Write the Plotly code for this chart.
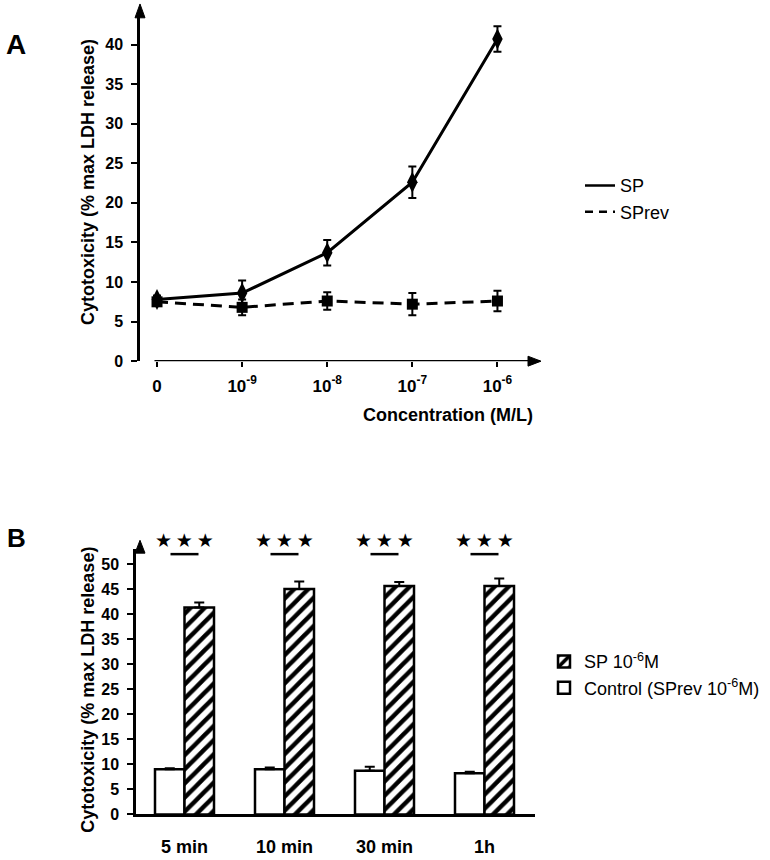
import plotly.graph_objects as go

# ---------------- data ----------------
conc_labels = ["0", "10<sup>-9</sup>", "10<sup>-8</sup>", "10<sup>-7</sup>", "10<sup>-6</sup>"]
sp_mean = [7.8, 8.6, 13.7, 22.6, 40.7]
sp_err = [0.5, 1.6, 1.6, 2.0, 1.6]
sprev_mean = [7.5, 6.8, 7.6, 7.2, 7.6]
sprev_err = [0.5, 1.0, 1.1, 1.4, 1.3]

time_labels = ["5 min", "10 min", "30 min", "1h"]
control_mean = [9.0, 9.0, 8.7, 8.2]
control_err = [0.2, 0.35, 0.8, 0.3]
sp6_mean = [41.3, 45.0, 45.6, 45.6]
sp6_err = [1.0, 1.5, 0.8, 1.5]

a_yticks = [0, 5, 10, 15, 20, 25, 30, 35, 40]
b_yticks = [0, 5, 10, 15, 20, 25, 30, 35, 40, 45, 50]

W, H = 770, 860
FONT = "Liberation Sans, Arial, sans-serif"


def px(x):
    return x / W


def py(y):
    return 1 - y / H


fig = go.Figure()

# ---------------- panel A ----------------
fig.add_trace(go.Scatter(
    x=conc_labels, y=sp_mean, mode="lines+markers", showlegend=False,
    line=dict(color="black", width=3),
    marker=dict(symbol="diamond-tall", size=15, color="black"),
    error_y=dict(type="data", array=sp_err, color="black", thickness=2, width=4),
    xaxis="x", yaxis="y", cliponaxis=False))
fig.add_trace(go.Scatter(
    x=conc_labels, y=sprev_mean, mode="lines+markers", showlegend=False,
    line=dict(color="black", width=3, dash="11px,7px"),
    marker=dict(symbol="square", size=11, color="black"),
    error_y=dict(type="data", array=sprev_err, color="black", thickness=2, width=4),
    xaxis="x", yaxis="y", cliponaxis=False))
# legend-only entries (lines without markers)
fig.add_trace(go.Scatter(x=[None], y=[None], mode="lines", name="SP",
                         line=dict(color="black", width=2.5), legend="legend",
                         xaxis="x", yaxis="y"))
fig.add_trace(go.Scatter(x=[None], y=[None], mode="lines", name="SPrev",
                         line=dict(color="black", width=2.5, dash="8px,6px"), legend="legend",
                         xaxis="x", yaxis="y"))

# ---------------- panel B ----------------
fig.add_trace(go.Bar(
    x=time_labels, y=control_mean, name="Control (SPrev 10<sup>-6</sup>M)",
    marker=dict(color="white", line=dict(color="black", width=2.5)),
    error_y=dict(type="data", array=control_err, arrayminus=[0] * 4, symmetric=False,
                 color="black", thickness=2, width=5),
    xaxis="x2", yaxis="y2", legend="legend2"))
fig.add_trace(go.Bar(
    x=time_labels, y=sp6_mean, name="SP 10<sup>-6</sup>M",
    marker=dict(color="white", line=dict(color="black", width=2.5),
                pattern=dict(shape="/", fgcolor="#000000", bgcolor="#ffffff", size=10,
                             solidity=0.45, fgopacity=1, fillmode="replace")),
    error_y=dict(type="data", array=sp6_err, arrayminus=[0] * 4, symmetric=False,
                 color="black", thickness=2, width=5),
    xaxis="x2", yaxis="y2", legend="legend2"))

tickfont = dict(family=FONT, size=16, color="black", weight="bold")
catfont = dict(family=FONT, size=18, color="black", weight="bold")

fig.update_layout(
    width=W, height=H,
    margin=dict(l=0, r=0, t=0, b=0),
    paper_bgcolor="white", plot_bgcolor="white",
    font=dict(family=FONT, color="black"),
    barmode="group", bargap=0.41, bargroupgap=0,
    xaxis=dict(domain=[px(140), px(540)], anchor="y", type="category",
               range=[-0.2, 4.5], showline=False, showgrid=False, zeroline=False,
               ticks="outside", ticklen=5, tickwidth=2, tickcolor="black",
               tickvals=conc_labels, ticktext=conc_labels,
               tickfont=dict(family=FONT, size=17, color="black", weight="bold"),
               ticklabelstandoff=4),
    yaxis=dict(domain=[py(365), py(15)], anchor="x", range=[0, 43.75],
               showline=True, linewidth=2.5, linecolor="black", showgrid=False, zeroline=False,
               ticks="outside", ticklen=6, tickwidth=2, tickcolor="black",
               tickvals=a_yticks, tickfont=tickfont, ticklabelstandoff=5),
    xaxis2=dict(domain=[px(136), px(535)], anchor="y2", type="category",
                range=[-0.485, 3.505], showline=True, linewidth=2.5, linecolor="black",
                showgrid=False, zeroline=False, ticks="", tickfont=catfont,
                ticklabelstandoff=14),
    yaxis2=dict(domain=[py(823), py(555)], anchor="x2", range=[0, 52.96],
                showline=True, linewidth=2.5, linecolor="black", showgrid=False, zeroline=False,
                ticks="outside", ticklen=6, tickwidth=2, tickcolor="black",
                tickvals=b_yticks, tickfont=tickfont, ticklabelstandoff=5),
    legend=dict(x=px(580), y=py(169), xanchor="left", yanchor="top",
                font=dict(family=FONT, size=18, color="black"),
                bgcolor="rgba(0,0,0,0)", tracegroupgap=0),
    legend2=dict(x=px(544), y=py(650), xanchor="left", yanchor="top",
                 font=dict(family=FONT, size=18, color="black"),
                 bgcolor="rgba(0,0,0,0)", traceorder="reversed"),
)

shapes = []
# panel A x-axis line (starts just right of y-axis) and arrowheads
shapes.append(dict(type="line", xref="x", yref="y", x0=-0.03, x1=4.5, y0=0, y1=0,
                   line=dict(color="black", width=2.5)))
shapes.append(dict(type="path", xref="paper", yref="paper",
                   path=f"M {px(528)} {py(360)} L {px(541)} {py(365)} L {px(528)} {py(370)} Z",
                   fillcolor="black", line=dict(color="black", width=1)))
shapes.append(dict(type="path", xref="paper", yref="paper",
                   path=f"M {px(135)} {py(18)} L {px(140)} {py(4)} L {px(145)} {py(18)} Z",
                   fillcolor="black", line=dict(color="black", width=1)))
# panel B y-axis arrowhead
shapes.append(dict(type="path", xref="paper", yref="paper",
                   path=f"M {px(135)} {py(559)} L {px(140)} {py(546)} L {px(145)} {py(559)} Z",
                   fillcolor="black", line=dict(color="black", width=1)))
# significance lines in panel B
for i in range(len(time_labels)):
    shapes.append(dict(type="line", xref="x2", yref="paper", x0=i - 0.14, x1=i + 0.14,
                       y0=py(560), y1=py(560), line=dict(color="black", width=2.5)))
fig.update_layout(shapes=shapes)

annotations = [
    dict(text="<b>A</b>", x=px(4), y=py(45), xref="paper", yref="paper",
         xanchor="left", yanchor="middle", showarrow=False,
         font=dict(family=FONT, size=28, color="black")),
    dict(text="<b>B</b>", x=px(5), y=py(544), xref="paper", yref="paper",
         xanchor="left", yanchor="middle", showarrow=False,
         font=dict(family=FONT, size=26, color="black")),
    dict(text="<b>Cytotoxicity (% max LDH release)</b>", x=px(88), y=py(184),
         xref="paper", yref="paper", textangle=-90, showarrow=False,
         xanchor="center", yanchor="middle", font=dict(family=FONT, size=18, color="black")),
    dict(text="<b>Cytotoxicity (% max LDH release)</b>", x=px(88), y=py(697),
         xref="paper", yref="paper", textangle=-90, showarrow=False,
         xanchor="center", yanchor="middle", font=dict(family=FONT, size=18, color="black")),
    dict(text="<b>Concentration (M/L)</b>", x=px(535), y=py(419), xref="paper", yref="paper",
         xanchor="right", yanchor="middle", showarrow=False,
         font=dict(family=FONT, size=18, color="black")),
]
for lab in time_labels:
    annotations.append(dict(text="★\u2009★\u2009★", x=lab, y=py(546), xref="x2", yref="paper",
                            xanchor="center", yanchor="middle", showarrow=False,
                            font=dict(family="DejaVu Sans", size=19, color="black")))
fig.update_layout(annotations=annotations)

fig.write_html("out.html", config={"displayModeBar": False},
               post_script="document.body.style.margin='0';")
